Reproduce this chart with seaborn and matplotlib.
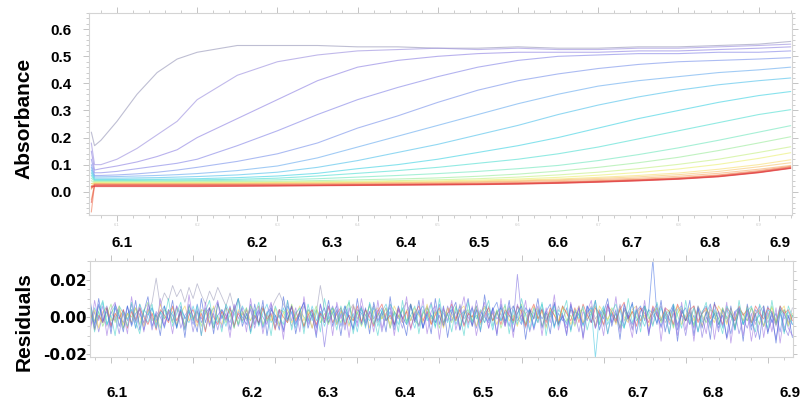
import numpy as np
import pandas as pd
import matplotlib
matplotlib.use("Agg")
import matplotlib.pyplot as plt
import seaborn as sns
from matplotlib.ticker import MultipleLocator

# ---------------- data ----------------
# radius grid (cm) at which each scan was read off the picture
scan_r = [6.068, 6.072, 6.080, 6.100, 6.125, 6.150, 6.175, 6.200, 6.250, 6.300,
          6.350, 6.400, 6.450, 6.500, 6.550, 6.600, 6.650, 6.700, 6.750, 6.800,
          6.850, 6.900, 6.940]

scan_01 = [0.22, 0.17, 0.19, 0.26, 0.36, 0.44, 0.49, 0.515, 0.54, 0.54, 0.54, 0.535, 0.535, 0.53, 0.53, 0.535, 0.53, 0.53, 0.535, 0.535, 0.54, 0.545, 0.555]
scan_02 = [0.18, 0.10, 0.10, 0.12, 0.16, 0.21, 0.26, 0.34, 0.43, 0.48, 0.505, 0.52, 0.525, 0.53, 0.525, 0.53, 0.525, 0.525, 0.53, 0.53, 0.535, 0.54, 0.545]
scan_03 = [0.15, 0.08, 0.085, 0.095, 0.11, 0.13, 0.155, 0.20, 0.27, 0.34, 0.41, 0.46, 0.485, 0.50, 0.51, 0.515, 0.515, 0.515, 0.52, 0.52, 0.525, 0.53, 0.535]
scan_04 = [0.12, 0.07, 0.07, 0.075, 0.085, 0.095, 0.105, 0.12, 0.17, 0.225, 0.285, 0.34, 0.385, 0.425, 0.46, 0.485, 0.50, 0.505, 0.51, 0.51, 0.515, 0.515, 0.52]
scan_05 = [0.10, 0.06, 0.06, 0.062, 0.066, 0.072, 0.08, 0.09, 0.112, 0.14, 0.18, 0.235, 0.28, 0.33, 0.375, 0.41, 0.435, 0.455, 0.47, 0.48, 0.485, 0.49, 0.495]
scan_06 = [0.09, 0.055, 0.055, 0.056, 0.058, 0.06, 0.063, 0.067, 0.078, 0.095, 0.125, 0.165, 0.205, 0.245, 0.285, 0.325, 0.36, 0.39, 0.41, 0.425, 0.44, 0.45, 0.46]
scan_07 = [0.08, 0.05, 0.05, 0.05, 0.051, 0.052, 0.054, 0.056, 0.062, 0.072, 0.09, 0.115, 0.145, 0.175, 0.21, 0.245, 0.285, 0.32, 0.35, 0.375, 0.395, 0.41, 0.42]
scan_08 = [0.07, 0.045, 0.045, 0.045, 0.046, 0.046, 0.047, 0.048, 0.052, 0.058, 0.068, 0.085, 0.10, 0.12, 0.145, 0.17, 0.20, 0.235, 0.27, 0.30, 0.33, 0.355, 0.37]
scan_09 = [0.06, 0.042, 0.042, 0.042, 0.042, 0.043, 0.043, 0.044, 0.046, 0.05, 0.058, 0.068, 0.078, 0.09, 0.105, 0.12, 0.14, 0.165, 0.195, 0.225, 0.255, 0.285, 0.303]
scan_10 = [0.05, 0.04, 0.04, 0.04, 0.04, 0.04, 0.04, 0.041, 0.042, 0.044, 0.048, 0.054, 0.06, 0.067, 0.075, 0.085, 0.097, 0.115, 0.137, 0.162, 0.19, 0.22, 0.244]
scan_11 = [0.04, 0.037, 0.037, 0.037, 0.037, 0.037, 0.037, 0.037, 0.038, 0.039, 0.041, 0.044, 0.047, 0.051, 0.057, 0.065, 0.076, 0.09, 0.107, 0.127, 0.152, 0.18, 0.203]
scan_12 = [0.03, 0.035, 0.035, 0.035, 0.035, 0.035, 0.035, 0.035, 0.035, 0.036, 0.037, 0.039, 0.041, 0.044, 0.048, 0.054, 0.062, 0.072, 0.085, 0.101, 0.12, 0.145, 0.166]
scan_13 = [0.02, 0.033, 0.033, 0.033, 0.033, 0.033, 0.033, 0.033, 0.033, 0.034, 0.035, 0.036, 0.038, 0.04, 0.043, 0.047, 0.053, 0.061, 0.071, 0.084, 0.101, 0.123, 0.144]
scan_14 = [0.01, 0.031, 0.031, 0.031, 0.031, 0.031, 0.031, 0.031, 0.031, 0.032, 0.033, 0.034, 0.035, 0.037, 0.04, 0.043, 0.047, 0.053, 0.06, 0.069, 0.083, 0.1, 0.118]
scan_15 = [0.03, 0.03, 0.03, 0.03, 0.03, 0.03, 0.03, 0.03, 0.03, 0.031, 0.031, 0.032, 0.033, 0.035, 0.037, 0.04, 0.044, 0.049, 0.055, 0.063, 0.075, 0.092, 0.107]
scan_16 = [-0.03, 0.029, 0.029, 0.029, 0.029, 0.029, 0.029, 0.029, 0.029, 0.03, 0.03, 0.031, 0.032, 0.033, 0.035, 0.038, 0.041, 0.045, 0.05, 0.057, 0.068, 0.083, 0.097]
scan_17 = [0.01, 0.028, 0.028, 0.027, 0.027, 0.027, 0.027, 0.027, 0.027, 0.027, 0.028, 0.028, 0.029, 0.03, 0.032, 0.034, 0.037, 0.041, 0.046, 0.052, 0.062, 0.078, 0.094]
scan_18 = [-0.075, 0.026, 0.026, 0.026, 0.026, 0.026, 0.026, 0.026, 0.026, 0.026, 0.026, 0.027, 0.028, 0.029, 0.03, 0.032, 0.035, 0.039, 0.044, 0.05, 0.06, 0.075, 0.092]
scan_19 = [0.02, 0.025, 0.025, 0.025, 0.025, 0.025, 0.025, 0.025, 0.025, 0.025, 0.025, 0.026, 0.027, 0.028, 0.029, 0.031, 0.034, 0.038, 0.043, 0.049, 0.058, 0.073, 0.09]
scan_20 = [-0.04, 0.023, 0.023, 0.023, 0.023, 0.023, 0.023, 0.023, 0.023, 0.023, 0.024, 0.025, 0.026, 0.027, 0.028, 0.03, 0.033, 0.037, 0.042, 0.048, 0.057, 0.072, 0.088]
scan_21 = [0.015, 0.021, 0.021, 0.021, 0.021, 0.021, 0.021, 0.021, 0.021, 0.022, 0.023, 0.024, 0.025, 0.026, 0.027, 0.029, 0.032, 0.036, 0.041, 0.047, 0.056, 0.071, 0.087]
scan_22 = [0.02, 0.019, 0.019, 0.019, 0.019, 0.019, 0.019, 0.019, 0.02, 0.021, 0.022, 0.023, 0.024, 0.025, 0.026, 0.028, 0.031, 0.035, 0.04, 0.046, 0.055, 0.07, 0.086]

scans = [scan_01, scan_02, scan_03, scan_04, scan_05, scan_06, scan_07, scan_08,
         scan_09, scan_10, scan_11, scan_12, scan_13, scan_14, scan_15, scan_16,
         scan_17, scan_18, scan_19, scan_20, scan_21, scan_22]
scan_names = ["scan %d" % (i + 1) for i in range(len(scans))]
scan_colors = ["#9c9cbc", "#a094e0", "#9488e4", "#8c8ce8", "#8098ec", "#70b0f0",
               "#58c4ec", "#48d4e4", "#58e0d4", "#78e8c0", "#a0eca0", "#c8f088",
               "#ecf078", "#f8e078", "#f8c878", "#f8b070", "#f49868", "#f08060",
               "#ec6c58", "#e85850", "#e44848", "#e04040"]

# residual radius grid
res_r = [6.075, 6.08, 6.085, 6.09, 6.095, 6.1, 6.105, 6.11, 6.115, 6.12,
         6.125, 6.13, 6.135, 6.14, 6.145, 6.15, 6.155, 6.16, 6.165, 6.17,
         6.175, 6.18, 6.185, 6.19, 6.195, 6.2, 6.205, 6.21, 6.215, 6.22,
         6.225, 6.23, 6.235, 6.24, 6.245, 6.25, 6.255, 6.26, 6.265, 6.27,
         6.275, 6.28, 6.285, 6.29, 6.295, 6.3, 6.305, 6.31, 6.315, 6.32,
         6.325, 6.33, 6.335, 6.34, 6.345, 6.35, 6.355, 6.36, 6.365, 6.37,
         6.375, 6.38, 6.385, 6.39, 6.395, 6.4, 6.405, 6.41, 6.415, 6.42,
         6.425, 6.43, 6.435, 6.44, 6.445, 6.45, 6.455, 6.46, 6.465, 6.47,
         6.475, 6.48, 6.485, 6.49, 6.495, 6.5, 6.505, 6.51, 6.515, 6.52,
         6.525, 6.53, 6.535, 6.54, 6.545, 6.55, 6.555, 6.56, 6.565, 6.57,
         6.575, 6.58, 6.585, 6.59, 6.595, 6.6, 6.605, 6.61, 6.615, 6.62,
         6.625, 6.63, 6.635, 6.64, 6.645, 6.65, 6.655, 6.66, 6.665, 6.67,
         6.675, 6.68, 6.685, 6.69, 6.695, 6.7, 6.705, 6.71, 6.715, 6.72,
         6.725, 6.73, 6.735, 6.74, 6.745, 6.75, 6.755, 6.76, 6.765, 6.77,
         6.775, 6.78, 6.785, 6.79, 6.795, 6.8, 6.805, 6.81, 6.815, 6.82,
         6.825, 6.83, 6.835, 6.84, 6.845, 6.85, 6.855, 6.86, 6.865, 6.87,
         6.875, 6.88, 6.885, 6.89, 6.895, 6.9, 6.905, 6.91, 6.915, 6.92,
         6.925, 6.93]

res_1 = [0.004, -0.003, 0.006, 0.001, -0.005, 0.003, -0.002, 0.005, -0.006, 0.002, 0.004, -0.001, 0.007, -0.004, 0.003, 0.008, 0.021, 0.006, 0.013, 0.009,
         0.017, 0.011, 0.015, 0.008, 0.016, 0.010, 0.018, 0.012, 0.007, 0.014, 0.009, 0.016, 0.011, 0.006, 0.013, 0.004, 0.010, 0.003, -0.002, 0.005,
         -0.004, 0.002, 0.006, -0.003, 0.004, 0.009, 0.013, 0.007, 0.002, -0.005, 0.003, -0.002, 0.006, 0.001, -0.006, 0.002, 0.017, 0.004, -0.003, 0.005,
         -0.002, 0.004, -0.005, 0.003, 0.007, -0.001, 0.005, -0.004, 0.002, 0.006, -0.003, 0.001, 0.005, -0.006, 0.003, -0.001, 0.004, 0.008, -0.002, 0.003,
         -0.005, 0.002, 0.006, -0.003, 0.004, 0.000, -0.004, 0.005, 0.002, -0.002, 0.007, -0.001, 0.003, -0.005, 0.004, 0.001, -0.003, 0.006, -0.002, 0.002,
         0.005, -0.004, 0.003, 0.006, -0.002, 0.001, -0.006, 0.004, 0.002, -0.003, 0.005, -0.001, 0.003, -0.005, 0.006, 0.000, -0.003, 0.004, -0.002, 0.005,
         -0.004, 0.002, 0.006, -0.001, 0.003, -0.005, 0.004, 0.001, -0.003, 0.007, -0.002, 0.003, -0.006, 0.002, 0.005, -0.001, 0.004, -0.004, 0.002, 0.006,
         -0.003, 0.001, 0.005, -0.005, 0.003, 0.000, -0.004, 0.006, -0.002, 0.002, 0.004, -0.006, 0.003, -0.001, 0.005, -0.003, 0.002, -0.005, 0.004, 0.001,
         -0.002, 0.005, -0.004, 0.003, 0.006, -0.003, 0.001, -0.005, 0.004, 0.002, -0.003, 0.005]
res_2 = [-0.005, 0.003, -0.008, 0.002, 0.006, -0.004, 0.001, -0.009, 0.004, -0.002, 0.007, -0.006, 0.002, -0.003, 0.005, -0.007, 0.003, 0.000, -0.005, 0.004,
         -0.002, 0.006, -0.006, 0.001, 0.004, -0.008, 0.003, -0.001, 0.005, -0.004, 0.002, -0.007, 0.004, 0.001, -0.003, 0.006, -0.005, 0.002, -0.001, 0.004,
         -0.006, 0.003, 0.000, -0.004, 0.007, -0.002, 0.004, -0.008, 0.002, 0.005, -0.003, 0.001, -0.006, 0.004, 0.002, -0.005, 0.003, -0.016, 0.001, 0.006,
         -0.004, 0.002, -0.007, 0.005, 0.000, -0.003, 0.006, -0.005, 0.003, -0.001, 0.004, -0.008, 0.002, 0.005, -0.004, 0.001, -0.006, 0.003, 0.007, -0.002,
         0.004, -0.006, 0.002, 0.008, -0.003, 0.001, -0.005, 0.006, -0.002, 0.003, -0.007, 0.004, 0.000, -0.004, 0.009, -0.002, 0.003, -0.006, 0.005, -0.001,
         0.002, -0.005, 0.006, -0.003, 0.023, 0.001, -0.004, 0.005, -0.007, 0.002, 0.004, -0.005, 0.001, 0.007, -0.003, 0.000, -0.006, 0.004, 0.002, -0.008,
         0.003, -0.002, 0.005, -0.006, 0.001, 0.004, -0.009, 0.002, -0.003, 0.006, -0.005, 0.001, -0.007, 0.004, -0.002, 0.005, -0.008, 0.000, 0.003, -0.006,
         0.002, -0.009, 0.004, -0.004, 0.001, -0.010, 0.003, -0.006, 0.005, -0.011, 0.000, -0.004, 0.002, -0.008, 0.004, -0.012, -0.002, 0.003, -0.009, -0.001,
         -0.006, 0.002, -0.011, -0.003, 0.004, -0.008, -0.001, -0.012, 0.002, -0.005, -0.010, 0.001]
res_3 = [0.002, -0.004, 0.007, -0.002, 0.003, -0.006, 0.005, 0.000, -0.003, 0.006, -0.005, 0.002, 0.004, -0.007, 0.001, 0.005, -0.002, 0.003, -0.006, 0.004,
         0.001, -0.005, 0.006, -0.001, 0.003, -0.004, 0.007, -0.003, 0.002, 0.005, -0.006, 0.001, 0.004, -0.002, 0.006, -0.005, 0.003, 0.000, -0.004, 0.007,
         -0.001, 0.004, -0.006, 0.002, 0.005, -0.003, 0.001, -0.007, 0.006, 0.002, -0.004, 0.003, 0.008, -0.002, 0.004, -0.006, 0.001, 0.005, -0.003, 0.002,
         0.006, -0.005, 0.003, 0.000, -0.006, 0.004, 0.002, -0.003, 0.007, -0.004, 0.001, 0.005, -0.002, 0.003, -0.007, 0.004, 0.000, -0.004, 0.006, -0.001,
         0.003, -0.006, 0.005, 0.001, -0.003, 0.007, -0.005, 0.002, 0.004, -0.002, 0.006, -0.004, 0.001, 0.005, -0.006, 0.003, 0.000, -0.003, 0.004, 0.008,
         -0.002, 0.003, -0.005, 0.006, 0.000, -0.004, 0.005, 0.002, -0.006, 0.004, -0.001, 0.003, 0.007, -0.005, 0.002, -0.002, 0.005, -0.007, 0.003, 0.001,
         -0.004, 0.006, 0.002, -0.005, 0.004, -0.001, 0.007, -0.003, 0.002, -0.006, 0.005, 0.001, -0.004, 0.003, 0.006, -0.002, 0.004, 0.031, 0.001, -0.005,
         0.004, -0.002, 0.006, -0.007, 0.002, 0.005, -0.004, 0.001, -0.008, 0.003, 0.006, -0.003, 0.002, -0.006, 0.004, 0.000, -0.009, 0.003, 0.005, -0.004,
         0.002, -0.007, 0.004, 0.001, -0.005, 0.006, -0.003, 0.002, -0.008, 0.004, 0.000, -0.004]
res_4 = [-0.003, 0.005, -0.001, 0.008, -0.004, 0.002, 0.006, -0.005, 0.003, -0.001, 0.004, -0.006, 0.007, 0.001, -0.003, 0.005, -0.004, 0.002, 0.006, -0.002,
         0.003, -0.006, 0.004, 0.000, -0.003, 0.006, -0.002, 0.004, -0.007, 0.002, 0.005, -0.003, 0.001, -0.005, 0.004, 0.002, -0.004, 0.006, 0.001, -0.002,
         0.004, -0.005, 0.002, 0.007, -0.003, 0.001, -0.004, 0.005, -0.001, 0.003, -0.006, 0.004, 0.000, -0.003, 0.006, -0.002, 0.003, -0.005, 0.002, 0.005,
         -0.003, 0.001, 0.006, -0.004, 0.002, -0.008, 0.004, 0.001, -0.002, 0.005, -0.005, 0.003, 0.007, -0.001, 0.002, -0.004, 0.005, -0.002, 0.001, -0.006,
         0.003, 0.006, -0.002, 0.001, -0.005, 0.004, 0.002, -0.003, 0.006, -0.004, 0.001, 0.003, -0.006, 0.005, -0.001, 0.004, -0.003, 0.002, -0.007, 0.003,
         0.005, -0.002, 0.001, -0.004, 0.006, -0.003, 0.002, 0.004, -0.005, 0.001, 0.007, -0.002, 0.003, -0.006, 0.004, 0.001, -0.004, 0.006, -0.001, 0.002,
         -0.005, 0.003, 0.005, -0.022, 0.001, 0.006, -0.004, 0.002, -0.001, 0.004, -0.006, 0.003, 0.007, -0.002, 0.001, -0.005, 0.004, 0.002, -0.003, 0.005,
         -0.001, 0.003, -0.005, 0.004, 0.006, -0.002, 0.001, -0.004, 0.005, -0.003, 0.002, 0.007, -0.001, 0.003, -0.006, 0.004, 0.000, -0.002, 0.005, -0.004,
         0.003, 0.006, -0.002, 0.001, -0.005, 0.004, 0.002, -0.003, 0.006, -0.001, 0.003, -0.004]
res_5 = [0.006, -0.002, 0.003, -0.005, 0.001, 0.007, -0.003, 0.004, -0.006, 0.002, 0.000, 0.005, -0.004, 0.003, 0.008, -0.002, 0.001, -0.006, 0.004, 0.002,
         -0.003, 0.005, 0.001, -0.004, 0.006, -0.001, 0.003, -0.005, 0.004, 0.000, -0.006, 0.007, 0.002, -0.003, 0.001, 0.005, -0.004, 0.003, -0.001, 0.006,
         0.002, -0.004, 0.005, -0.002, 0.001, -0.006, 0.004, 0.003, -0.003, 0.007, -0.001, 0.002, -0.005, 0.004, 0.000, 0.006, -0.003, 0.002, -0.004, 0.005,
         0.001, -0.003, 0.004, 0.008, -0.002, 0.003, -0.005, 0.001, 0.006, -0.004, 0.002, -0.001, 0.005, -0.006, 0.003, 0.000, 0.004, -0.003, 0.007, -0.002,
         -0.004, 0.002, 0.005, -0.001, 0.003, -0.006, 0.004, 0.001, -0.003, 0.006, -0.005, 0.002, 0.004, -0.002, 0.001, -0.004, 0.006, 0.003, -0.002, 0.004,
         -0.006, 0.001, 0.005, -0.003, 0.002, 0.007, -0.004, 0.003, -0.001, 0.005, -0.005, 0.002, 0.000, 0.004, -0.003, 0.006, -0.002, 0.001, -0.005, 0.003,
         0.004, -0.001, 0.002, 0.006, -0.004, 0.003, -0.002, 0.005, 0.001, -0.006, 0.004, -0.002, 0.003, 0.000, -0.004, 0.006, -0.001, 0.002, 0.005, -0.003,
         0.001, 0.004, -0.006, 0.002, 0.005, -0.002, 0.003, -0.005, 0.006, 0.001, -0.003, 0.004, 0.002, -0.004, 0.005, -0.001, 0.003, -0.006, 0.004, 0.002,
         -0.002, 0.005, 0.001, -0.004, 0.003, -0.001, 0.006, -0.003, 0.002, 0.004, -0.005, 0.001]
res_6 = [-0.001, 0.004, -0.006, 0.003, 0.005, -0.002, 0.001, 0.006, -0.004, 0.002, -0.003, 0.005, 0.000, -0.005, 0.004, 0.002, -0.003, 0.007, -0.001, 0.003,
         0.005, -0.004, 0.002, 0.006, -0.002, 0.001, -0.005, 0.004, 0.003, -0.003, 0.006, -0.001, -0.004, 0.005, 0.002, -0.006, 0.004, 0.001, 0.005, -0.002,
         0.003, 0.006, -0.004, 0.001, -0.002, 0.005, -0.005, 0.002, 0.004, -0.003, 0.001, 0.006, -0.002, 0.003, -0.006, 0.004, 0.000, -0.003, 0.005, 0.002,
         -0.004, 0.003, 0.001, -0.005, 0.006, 0.002, -0.002, 0.004, -0.006, 0.003, 0.005, -0.001, 0.002, -0.004, 0.006, 0.001, -0.003, 0.004, -0.002, 0.005,
         0.001, -0.003, 0.007, -0.004, 0.002, 0.003, -0.006, 0.005, 0.000, -0.002, 0.004, 0.006, -0.003, 0.001, -0.005, 0.003, 0.005, -0.001, 0.002, -0.004,
         0.003, 0.006, -0.002, 0.001, -0.005, 0.004, 0.002, -0.003, 0.006, -0.001, 0.003, -0.006, 0.004, 0.001, -0.002, 0.005, 0.003, -0.004, 0.002, 0.006,
         -0.003, 0.001, 0.004, -0.005, 0.006, 0.002, -0.001, 0.003, -0.004, 0.005, 0.000, -0.003, 0.004, 0.006, -0.002, 0.001, -0.005, 0.003, 0.005, -0.001,
         0.004, -0.003, 0.002, 0.006, -0.004, 0.001, 0.005, -0.002, 0.003, -0.005, 0.004, 0.001, -0.003, 0.006, 0.002, -0.004, 0.005, -0.001, 0.003, -0.002,
         0.006, -0.003, 0.002, 0.004, -0.005, 0.001, 0.005, -0.002, 0.003, 0.006, -0.004, 0.002]
res_7 = [0.003, -0.007, 0.001, -0.003, 0.005, -0.005, 0.002, -0.001, 0.004, -0.006, 0.003, -0.002, 0.005, 0.000, -0.004, 0.002, -0.007, 0.004, 0.001, -0.003,
         0.006, -0.002, 0.003, -0.006, 0.001, 0.004, -0.003, 0.002, -0.008, 0.005, 0.000, -0.004, 0.003, -0.001, 0.005, -0.005, 0.002, -0.002, 0.004, -0.006,
         0.001, -0.003, 0.005, -0.001, 0.002, -0.007, 0.004, 0.000, -0.003, 0.006, -0.002, 0.003, -0.005, 0.001, 0.004, -0.004, 0.002, -0.001, 0.006, -0.003,
         0.002, 0.005, -0.004, 0.001, -0.002, 0.006, -0.003, 0.004, 0.000, -0.005, 0.003, 0.007, -0.002, 0.001, -0.004, 0.005, -0.001, 0.003, -0.006, 0.002,
         0.006, -0.002, 0.003, -0.004, 0.001, 0.005, -0.003, 0.002, 0.007, -0.001, 0.004, -0.005, 0.002, 0.000, 0.006, -0.003, 0.001, 0.005, -0.002, 0.003,
         -0.004, 0.004, 0.001, -0.002, 0.006, 0.003, -0.005, 0.002, 0.007, -0.001, 0.004, -0.003, 0.005, 0.001, -0.004, 0.006, 0.002, -0.002, 0.005, -0.003,
         0.007, 0.001, -0.003, 0.005, 0.002, -0.004, 0.006, 0.003, -0.002, 0.004, 0.008, -0.001, 0.003, -0.005, 0.005, 0.002, -0.003, 0.006, 0.001, -0.002,
         0.005, 0.003, -0.004, 0.007, 0.001, -0.002, 0.004, 0.006, -0.003, 0.002, 0.005, -0.001, 0.007, 0.003, -0.004, 0.005, 0.002, -0.002, 0.006, 0.001,
         0.004, -0.003, 0.006, 0.002, -0.001, 0.005, 0.003, -0.004, 0.006, 0.002, 0.004, -0.002]
res_8 = [0.008, -0.006, 0.010, -0.003, 0.005, -0.009, 0.007, 0.001, -0.008, 0.006, -0.004, 0.009, -0.007, 0.003, 0.011, -0.005, 0.002, -0.010, 0.006, -0.002,
         0.009, -0.006, 0.004, -0.011, 0.007, 0.000, -0.008, 0.010, -0.003, 0.005, -0.009, 0.008, -0.001, 0.006, -0.007, 0.003, 0.010, -0.005, 0.002, -0.008,
         0.007, -0.004, 0.009, -0.010, 0.004, 0.001, -0.007, 0.011, -0.002, 0.006, -0.009, 0.003, 0.008, -0.006, 0.002, -0.011, 0.007, -0.003, 0.009, -0.005,
         0.004, -0.010, 0.006, 0.000, -0.007, 0.010, -0.004, 0.005, -0.009, 0.008, -0.002, 0.003, -0.008, 0.011, -0.005, 0.006, -0.001, -0.010, 0.007, -0.003,
         0.009, -0.006, 0.002, -0.009, 0.010, -0.004, 0.006, -0.011, 0.003, 0.008, -0.007, 0.001, 0.010, -0.005, 0.004, -0.008, 0.012, -0.002, 0.005, -0.010,
         0.007, -0.003, 0.009, -0.008, 0.002, 0.006, -0.012, 0.004, -0.001, 0.010, -0.006, 0.003, -0.009, 0.008, -0.004, 0.001, -0.010, 0.007, -0.002, 0.005,
         -0.011, 0.006, -0.003, 0.009, -0.007, 0.002, 0.010, -0.005, 0.004, -0.012, 0.007, -0.001, 0.008, -0.009, 0.003, 0.006, -0.010, 0.005, -0.004, 0.009,
         -0.008, 0.002, 0.007, -0.013, 0.004, -0.002, 0.009, -0.010, 0.005, -0.006, 0.003, -0.012, 0.008, -0.004, 0.001, -0.011, 0.006, -0.007, 0.004, -0.013,
         0.007, -0.005, 0.002, -0.012, 0.006, -0.009, 0.003, -0.014, 0.005, -0.008, 0.001, -0.011]
res_9 = [-0.007, 0.009, -0.002, 0.006, -0.010, 0.004, 0.008, -0.005, 0.002, -0.009, 0.011, -0.003, 0.005, -0.008, 0.007, 0.000, -0.006, 0.010, -0.004, 0.003,
         -0.009, 0.006, 0.001, -0.007, 0.012, -0.002, 0.004, -0.010, 0.008, -0.005, 0.003, 0.009, -0.006, 0.002, -0.011, 0.007, -0.001, 0.005, -0.008, 0.010,
         -0.004, 0.006, -0.009, 0.002, 0.008, -0.006, 0.004, -0.012, 0.009, -0.002, 0.005, -0.008, 0.011, -0.004, 0.001, -0.009, 0.007, -0.003, 0.006, -0.010,
         0.008, -0.001, 0.004, -0.011, 0.006, -0.005, 0.010, -0.002, 0.003, -0.008, 0.009, -0.006, 0.001, 0.007, -0.010, 0.004, -0.003, 0.011, -0.007, 0.002,
         -0.005, 0.010, -0.009, 0.003, 0.006, -0.012, 0.005, -0.002, 0.009, -0.007, 0.002, 0.011, -0.004, 0.006, -0.010, 0.001, 0.008, -0.006, 0.003, -0.009,
         0.010, -0.005, 0.004, -0.011, 0.007, -0.002, 0.009, -0.008, 0.001, 0.006, -0.010, 0.005, -0.003, 0.012, -0.007, 0.002, -0.009, 0.008, -0.004, 0.006,
         -0.012, 0.003, 0.009, -0.006, 0.002, -0.010, 0.007, -0.003, 0.011, -0.008, 0.004, -0.001, -0.011, 0.006, -0.005, 0.009, -0.009, 0.003, 0.007, -0.013,
         0.005, -0.004, 0.002, -0.010, 0.008, -0.007, 0.004, -0.013, 0.006, 0.000, -0.009, 0.007, -0.012, 0.003, -0.005, 0.008, -0.014, 0.002, 0.005, -0.010,
         0.004, -0.013, 0.001, 0.006, -0.011, 0.003, -0.008, 0.005, -0.014, 0.002, -0.006, -0.010]
res_10 = [0.005, -0.008, 0.003, 0.009, -0.004, 0.001, -0.010, 0.006, 0.002, -0.005, 0.008, -0.002, -0.009, 0.004, 0.001, 0.007, -0.006, 0.003, -0.001, 0.010,
          -0.005, 0.002, 0.008, -0.007, 0.004, -0.002, 0.006, -0.010, 0.003, 0.009, -0.004, 0.001, -0.008, 0.007, 0.002, -0.006, 0.010, -0.003, 0.005, -0.009,
          0.001, 0.008, -0.005, 0.003, -0.010, 0.006, 0.000, -0.004, 0.009, -0.007, 0.002, 0.005, -0.009, 0.007, -0.002, 0.004, -0.008, 0.010, -0.001, 0.003,
          -0.007, 0.006, -0.003, 0.009, -0.009, 0.002, 0.005, -0.006, 0.008, 0.000, -0.010, 0.004, -0.002, 0.007, 0.003, -0.008, 0.009, -0.004, 0.001, 0.006,
          -0.009, 0.004, -0.001, 0.007, -0.006, 0.010, -0.003, 0.002, -0.008, 0.005, 0.001, -0.010, 0.008, -0.003, 0.006, -0.007, 0.002, 0.009, -0.005, 0.003,
          -0.002, 0.007, -0.009, 0.004, -0.004, 0.010, 0.001, -0.007, 0.005, -0.003, 0.008, -0.010, 0.003, 0.006, -0.005, 0.002, 0.009, -0.008, 0.004, -0.001,
          0.006, -0.007, 0.002, 0.009, -0.004, 0.005, -0.009, 0.003, 0.007, -0.002, -0.006, 0.010, -0.003, 0.004, -0.008, 0.006, 0.001, -0.005, 0.008, -0.002,
          0.003, -0.009, 0.007, 0.001, -0.006, 0.009, -0.003, 0.005, -0.008, 0.002, 0.008, -0.005, 0.004, -0.001, -0.009, 0.006, 0.002, -0.007, 0.009, -0.004,
          0.005, -0.002, -0.008, 0.007, 0.001, -0.006, 0.009, -0.004, 0.003, -0.009, 0.006, 0.000]

residuals = [res_1, res_2, res_3, res_4, res_5, res_6, res_7, res_8, res_9, res_10]
res_names = ["fit %d" % (i + 1) for i in range(len(residuals))]
res_colors = ["#9a9ab8", "#7c6ce0", "#4a74e4", "#3cc4e0", "#84e070", "#f0d050",
              "#e85050", "#3c5cd8", "#9a6ce0", "#40d0c8"]

abs_ticks = [0.0, 0.1, 0.2, 0.3, 0.4, 0.5, 0.6]
abs_tick_labels = ["0.0", "0.1", "0.2", "0.3", "0.4", "0.5", "0.6"]
res_ticks = [-0.02, 0.0, 0.02]
res_tick_labels = ["-0.02", "0.00", "0.02"]
r_ticks = [6.1, 6.2, 6.3, 6.4, 6.5, 6.6, 6.7, 6.8, 6.9]
r_tick_labels = ["6.1", "6.2", "6.3", "6.4", "6.5", "6.6", "6.7", "6.8", "6.9"]
# where the bold radius labels sit under each panel
top_label_pos = [6.106, 6.2746, 6.368, 6.460, 6.551, 6.650, 6.742, 6.839, 6.927]
bot_label_pos = [6.107, 6.2717, 6.364, 6.458, 6.553, 6.644, 6.742, 6.833, 6.927]

# ---------------- tables ----------------
df_scan = pd.DataFrame(
    [(n, r, a) for n, vals in zip(scan_names, scans) for r, a in zip(scan_r, vals, strict=True)],
    columns=["scan", "radius", "absorbance"])
df_res = pd.DataFrame(
    [(n, r, v) for n, vals in zip(res_names, residuals) for r, v in zip(res_r, vals, strict=True)],
    columns=["fit", "radius", "residual"])

# ---------------- figure ----------------
sns.set_theme(style="white")
plt.rcParams["font.family"] = ["Liberation Sans", "DejaVu Sans"]

fig = plt.figure(figsize=(8.05, 4.05), dpi=100)
ax1 = fig.add_axes([89 / 805, 1 - 215 / 405, 703 / 805, 202 / 405])
ax2 = fig.add_axes([90 / 805, 1 - 357 / 405, 703 / 805, 96 / 405])

sns.lineplot(data=df_scan, x="radius", y="absorbance", hue="scan", hue_order=scan_names,
             palette=dict(zip(scan_names, scan_colors)), estimator=None, sort=False,
             legend=False, linewidth=0.8, alpha=0.65, ax=ax1)
sns.lineplot(data=df_res, x="radius", y="residual", hue="fit", hue_order=res_names,
             palette=dict(zip(res_names, res_colors)), estimator=None, sort=False,
             legend=False, linewidth=0.6, alpha=0.6, ax=ax2)

ax1.set_xlim(6.0651, 6.9416)
ax1.set_ylim(-0.086, 0.660)
ax2.set_xlim(6.0744, 6.9307)
ax2.set_ylim(-0.0215, 0.0302)

for ax in (ax1, ax2):
    for s in ax.spines.values():
        s.set_color("#d4d4d4")
        s.set_linewidth(0.8)
    ax.tick_params(which="both", direction="out", colors="#c4c4c4",
                   top=True, right=True, bottom=True, left=True)
    ax.tick_params(which="major", length=4, width=0.7)
    ax.tick_params(which="minor", length=2.5, width=0.6)
    ax.set_xlabel("")
    ax.set_ylabel("")
    ax.xaxis.set_minor_locator(MultipleLocator(0.02))

# top panel ticks
ax1.set_yticks(abs_ticks, abs_tick_labels, fontsize=11, fontweight="bold", color="black")
ax1.yaxis.set_minor_locator(MultipleLocator(0.02))
ax1.tick_params(axis="y", which="major", pad=8.6, labelcolor="black")
ax1.set_xticks(r_ticks, r_tick_labels, fontsize=3, color="#c8c8c8")
ax1.tick_params(axis="x", which="major", pad=2)

# bottom panel ticks
ax2.set_yticks(res_ticks, res_tick_labels, fontsize=11, fontweight="bold", color="black")
ax2.yaxis.set_minor_locator(MultipleLocator(0.005))
ax2.tick_params(axis="y", which="major", length=3, pad=-0.7, labelcolor="black")
for lbl in ax2.get_yticklabels():
    lbl.set_fontfamily(["DejaVu Sans"])
    lbl.set_fontweight("bold")
    lbl.set_fontsize(11)
ax2.set_xticks(r_ticks, [""] * len(r_ticks))

# bold radius labels
for pos, lab in zip(top_label_pos, r_tick_labels):
    ax1.text(pos, -0.139, lab, transform=ax1.get_xaxis_transform(), ha="center",
             va="center", fontsize=11, fontweight="bold", color="black")
for pos, lab in zip(bot_label_pos, r_tick_labels):
    ax2.text(pos, -0.375, lab, transform=ax2.get_xaxis_transform(), ha="center",
             va="center", fontsize=11, fontweight="bold", color="black")

fig.text(24 / 805, 1 - 118.5 / 405, "Absorbance", rotation=90, ha="center", va="center",
         fontsize=15, fontweight="bold", color="black")
fig.text(24 / 805, 1 - 321.5 / 405, "Residuals", rotation=90, ha="center", va="center",
         fontsize=15, fontweight="bold", color="black")

fig.savefig("out.png", dpi=100)
